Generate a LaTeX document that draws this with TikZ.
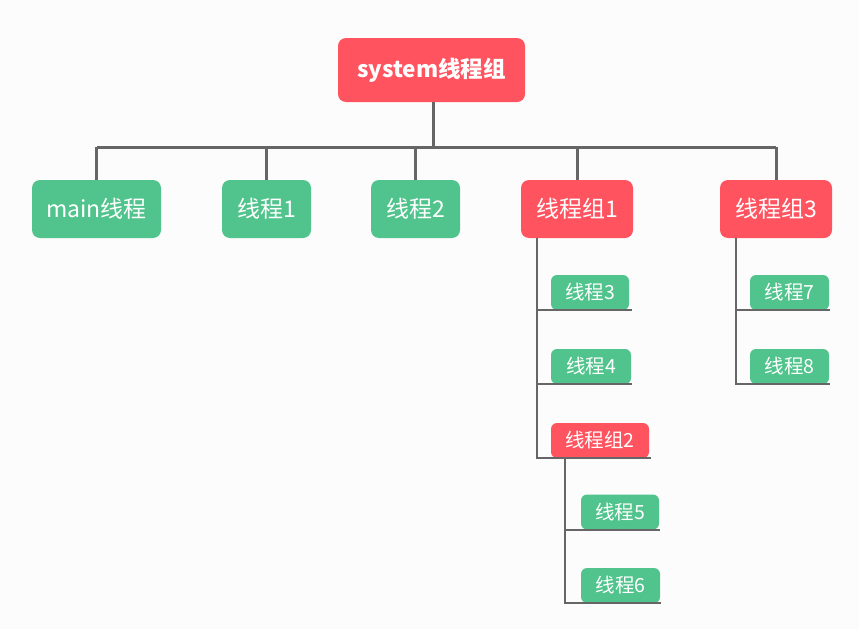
\documentclass[tikz,border=0pt]{standalone}
\usepackage{fontspec}
\setmainfont{Noto Sans CJK SC}
\definecolor{grpred}{HTML}{FF5460}
\definecolor{thrgreen}{HTML}{50C48C}
\definecolor{linegray}{HTML}{666666}
\definecolor{paper}{HTML}{FCFCFC}
\begin{document}
\begin{tikzpicture}[x=1pt,y=-1pt,
  box/.style={rounded corners=8pt, inner sep=0pt, text=white, align=center},
  group/.style={box, fill=grpred},
  thread/.style={box, fill=thrgreen},
  big/.style={font=\fontsize{23}{25}\selectfont, minimum height=58pt},
  small/.style={font=\fontsize{19.5}{21}\selectfont, minimum height=35pt, rounded corners=6pt},
  bus/.style={draw=linegray, line width=3pt},
  branch/.style={draw=linegray, line width=2pt}]
\fill[paper] (0,0) rectangle (859,629);
\useasboundingbox (0,0) rectangle (859,629);

% root
\node[group, font=\bfseries\fontsize{22.5}{24}\selectfont, minimum width=187pt, minimum height=64pt] (sys) at (431.5,70) {system线程组};

% first level
\node[thread, big, minimum width=129pt] (main) at (96.5,209) {main线程};
\node[thread, big, minimum width=89pt] (t1) at (266.5,209) {线程1};
\node[thread, big, minimum width=89pt] (t2) at (415.5,209) {线程2};
\node[group, big, minimum width=112pt] (g1) at (577,209) {线程组1};
\node[group, big, minimum width=112pt] (g3) at (776,209) {线程组3};

% children of 线程组1
\node[thread, small, minimum width=78pt] (t3) at (590,292.5) {线程3};
\node[thread, small, minimum width=80pt] (t4) at (591,366.5) {线程4};
\node[group, small, minimum width=98pt] (g2) at (600,440.5) {线程组2};
% children of 线程组2
\node[thread, small, minimum width=78pt] (t5) at (620,512) {线程5};
\node[thread, small, minimum width=79pt] (t6) at (620.5,585.5) {线程6};
% children of 线程组3
\node[thread, small, minimum width=79pt] (t7) at (789.5,292.5) {线程7};
\node[thread, small, minimum width=79pt] (t8) at (789.5,366.5) {线程8};

% top bus
\coordinate (busy) at (0,147);
\draw[bus] ([xshift=1.5pt]sys.south) -- ([xshift=1.5pt]sys.south |- busy);
\draw[bus] ([xshift=0.5pt]main.north |- busy) -- (g3.north |- busy);
\foreach \n in {main,t1,t2,g1,g3}
  \draw[bus] (\n.north) -- (\n.north |- busy);

% tree lines under the groups
\coordinate (g1b) at ([xshift=16pt]g1.south west);
\coordinate (g2b) at ([xshift=14pt]g2.south west);
\coordinate (g3b) at ([xshift=16pt]g3.south west);
\draw[branch] (g1b) |- ([xshift=2pt]g2.south east);
\draw[branch] (g1b |- t3.south) -- ([xshift=3pt]t3.south east);
\draw[branch] (g1b |- t4.south) -- ([xshift=1pt]t4.south east);
\draw[branch] (g2b) |- ([xshift=1pt]t6.south east);
\draw[branch] (g2b |- t5.south) -- ([xshift=1pt]t5.south east);
\draw[branch] (g3b) |- ([xshift=1pt]t8.south east);
\draw[branch] (g3b |- t7.south) -- ([xshift=1pt]t7.south east);
\end{tikzpicture}
\end{document}
